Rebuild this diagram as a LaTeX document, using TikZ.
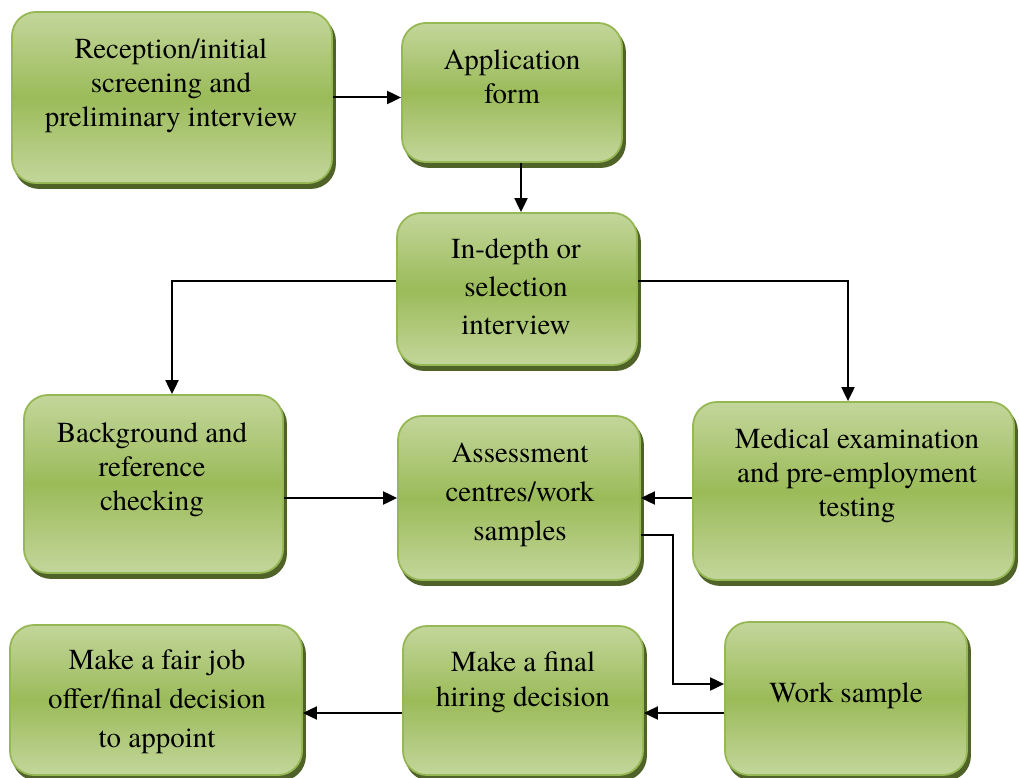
\documentclass[tikz,border=0pt]{standalone}
\usepackage{fontspec}
\setmainfont{texgyretermes-regular.otf}
\newfontfamily\stagefont{texgyretermes-regular.otf}
\usepackage{tikz}
\usetikzlibrary{arrows.meta,shadows}

\definecolor{boxlight}{RGB}{195,214,155}
\definecolor{boxmid}{RGB}{155,187,89}
\definecolor{boxedge}{RGB}{150,184,84}
\definecolor{boxshade}{RGB}{79,98,40}

\begin{document}
\begin{tikzpicture}[x=1pt,y=-1pt,>={Triangle[length=14pt,width=13pt]},line width=2pt,
    stage/.style={rectangle,rounded corners=24pt,draw=boxedge,line width=1.8pt,
      top color=boxlight,bottom color=boxlight,middle color=boxmid,
      general shadow={shadow xshift=3pt,shadow yshift=-5pt,fill=boxshade,draw=boxshade}},
    stage text/.style={align=center,inner sep=0pt,font=\stagefont\fontsize{29}{#1}\selectfont},
    stage text/.default=36]

  \useasboundingbox[fill=white] (0,0) rectangle (1019,778);

  % the boxes
  \node[stage,minimum width=320pt,minimum height=171pt] (recep) at (172,97.5) {};
  \node[stage,minimum width=220pt,minimum height=139pt] (app) at (512,92.5) {};
  \node[stage,minimum width=240pt,minimum height=152pt] (indepth) at (517,289) {};
  \node[stage,minimum width=259pt,minimum height=178pt] (backgr) at (153.5,484) {};
  \node[stage,minimum width=242pt,minimum height=164pt] (assess) at (519,498) {};
  \node[stage,minimum width=321pt,minimum height=178pt] (medical) at (853.5,491) {};
  \node[stage,minimum width=292pt,minimum height=150pt] (fair) at (156,700) {};
  \node[stage,minimum width=240pt,minimum height=149pt] (final) at (523,700.5) {};
  \node[stage,minimum width=242pt,minimum height=153pt] (work) at (846,698.5) {};

  % their texts
  \node[stage text=34] (recep text) at (171,86) {Reception/initial\\screening and\\preliminary interview};
  \node[stage text=34] (app text) at (512,77) {Application\\form};
  \node[stage text=38] (indepth text) at (516,287) {In-depth or\\selection\\interview};
  \node[stage text=34] (backgr text) at (152,470) {Background and\\reference\\checking};
  \node[stage text=39] (assess text) at (520,495) {Assessment\\centres/work\\samples};
  \node[stage text=34] (medical text) at (857,476) {Medical examination\\and pre-employment\\testing};
  \node[stage text=39] (fair text) at (157,702) {Make a fair job\\offer/final decision\\to appoint};
  \node[stage text=35] (final text) at (523,682) {Make a final\\hiring decision};
  \node[stage text] (work text) at (846,696) {Work sample};

  % connectors
  \draw[->] (recep.east) -- (recep.east -| app.west);
  \draw[->] ([xshift=9pt]app.south) -- ([xshift=9pt]app.south |- indepth.north);
  \draw[->] ([yshift=8pt]indepth.west) -| ([xshift=18.5pt]backgr.north);
  \draw[->] ([yshift=8pt]indepth.east) -| ([xshift=-5.5pt]medical.north);
  \draw[->] (backgr.east |- assess.west) -- (assess.west);
  \draw[->] (medical.west |- assess.east) -- (assess.east);
  \draw[->] ([yshift=-37pt]assess.east) -- ++(32,0) |- ([yshift=14.5pt]work.west);
  \draw[->] ([yshift=-14.5pt]work.west) -- ([yshift=-14.5pt]work.west -| final.east);
  \draw[->] ([yshift=-12.5pt]final.west) -- ([yshift=-12.5pt]final.west -| fair.east);
\end{tikzpicture}
\end{document}
